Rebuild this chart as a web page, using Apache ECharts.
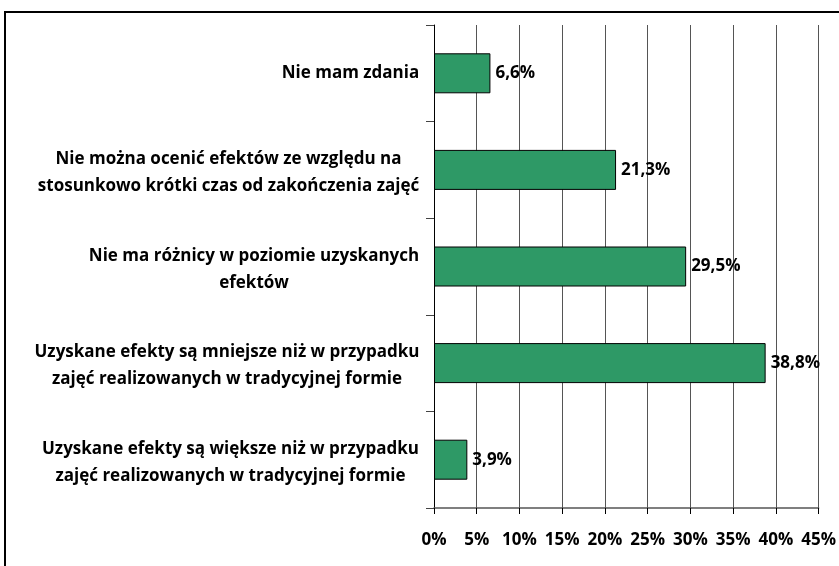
<!DOCTYPE html>
<html>
<head>
<meta charset="utf-8">
<script src="https://cdn.jsdelivr.net/npm/echarts@6/dist/echarts.min.js"></script>
<style>
  html, body { margin: 0; padding: 0; background: #fff; }
  #chart { width: 839px; height: 566px; }
</style>
</head>
<body>
<div id="chart"></div>
<script>
// categories listed bottom to top (ECharts category axis starts at the bottom)
const categories = [
  'Uzyskane efekty są większe niż w przypadku\nzajęć realizowanych w tradycyjnej formie',
  'Uzyskane efekty są mniejsze niż w przypadku\nzajęć realizowanych w tradycyjnej formie',
  'Nie ma różnicy w poziomie uzyskanych\nefektów',
  'Nie można ocenić efektów ze względu na\nstosunkowo krótki czas od zakończenia zajęć',
  'Nie mam zdania'
]
const values = [3.9, 38.8, 29.5, 21.3, 6.6]

const FONT = 'Open Sans'
const FS = 17

// each label block is right aligned at the axis, its lines centred within the block
const ctx = document.createElement('canvas').getContext('2d')
ctx.font = 'bold ' + FS + 'px "' + FONT + '"'
const rich = {
  s: { fontSize: 1, lineHeight: 6 }
}
categories.forEach((c, i) => {
  const w = Math.max(...c.split('\n').map(l => ctx.measureText(l).width))
  rich['c' + i] = {
    width: Math.ceil(w) + 1,
    align: 'center',
    fontWeight: 'bold',
    fontSize: FS,
    fontFamily: FONT,
    color: '#000',
    lineHeight: 27
  }
})

const chart = echarts.init(document.getElementById('chart'))

chart.setOption({
  backgroundColor: '#fff',
  animation: false,
  textStyle: { fontFamily: FONT },
  graphic: [{
    type: 'rect',
    shape: { x: 5, y: 12, width: 900, height: 700 },
    style: { fill: 'none', stroke: '#000', lineWidth: 2 }
  }],
  grid: {
    left: 434,
    right: 20,
    top: 25,
    bottom: 58,
    containLabel: false
  },
  xAxis: {
    type: 'value',
    min: 0,
    max: 45,
    interval: 5,
    axisLine: { show: true, lineStyle: { color: '#555', width: 1.5 } },
    axisTick: { show: true, length: 6, lineStyle: { color: '#000' } },
    axisLabel: {
      formatter: '{value}%',
      color: '#000',
      fontWeight: 'bold',
      fontSize: FS,
      margin: 24
    },
    splitLine: { show: true, lineStyle: { color: '#555', width: 1 } }
  },
  yAxis: {
    type: 'category',
    data: categories,
    axisLine: { show: true, lineStyle: { color: '#000', width: 1 } },
    axisTick: { show: true, length: 8, inside: false, lineStyle: { color: '#444' } },
    axisLabel: {
      align: 'right',
      margin: 14,
      formatter: (value, index) => {
        const lines = value.split('\n').map(l => '{c' + index + '|' + l + '}')
        // two-line labels sit a little lower than centre in the original
        if (lines.length > 1) lines.unshift('{s| }')
        return lines.join('\n')
      },
      rich: rich
    },
    splitLine: { show: false }
  },
  series: [{
    type: 'bar',
    data: values,
    barWidth: 40,
    itemStyle: {
      color: '#2e9966',
      borderColor: '#000',
      borderWidth: 1
    },
    label: {
      show: true,
      position: 'right',
      distance: 5,
      formatter: (p) => p.value.toFixed(1).replace('.', ',') + '%',
      color: '#000',
      fontWeight: 'bold',
      fontSize: FS
    }
  }]
})
</script>
</body>
</html>
